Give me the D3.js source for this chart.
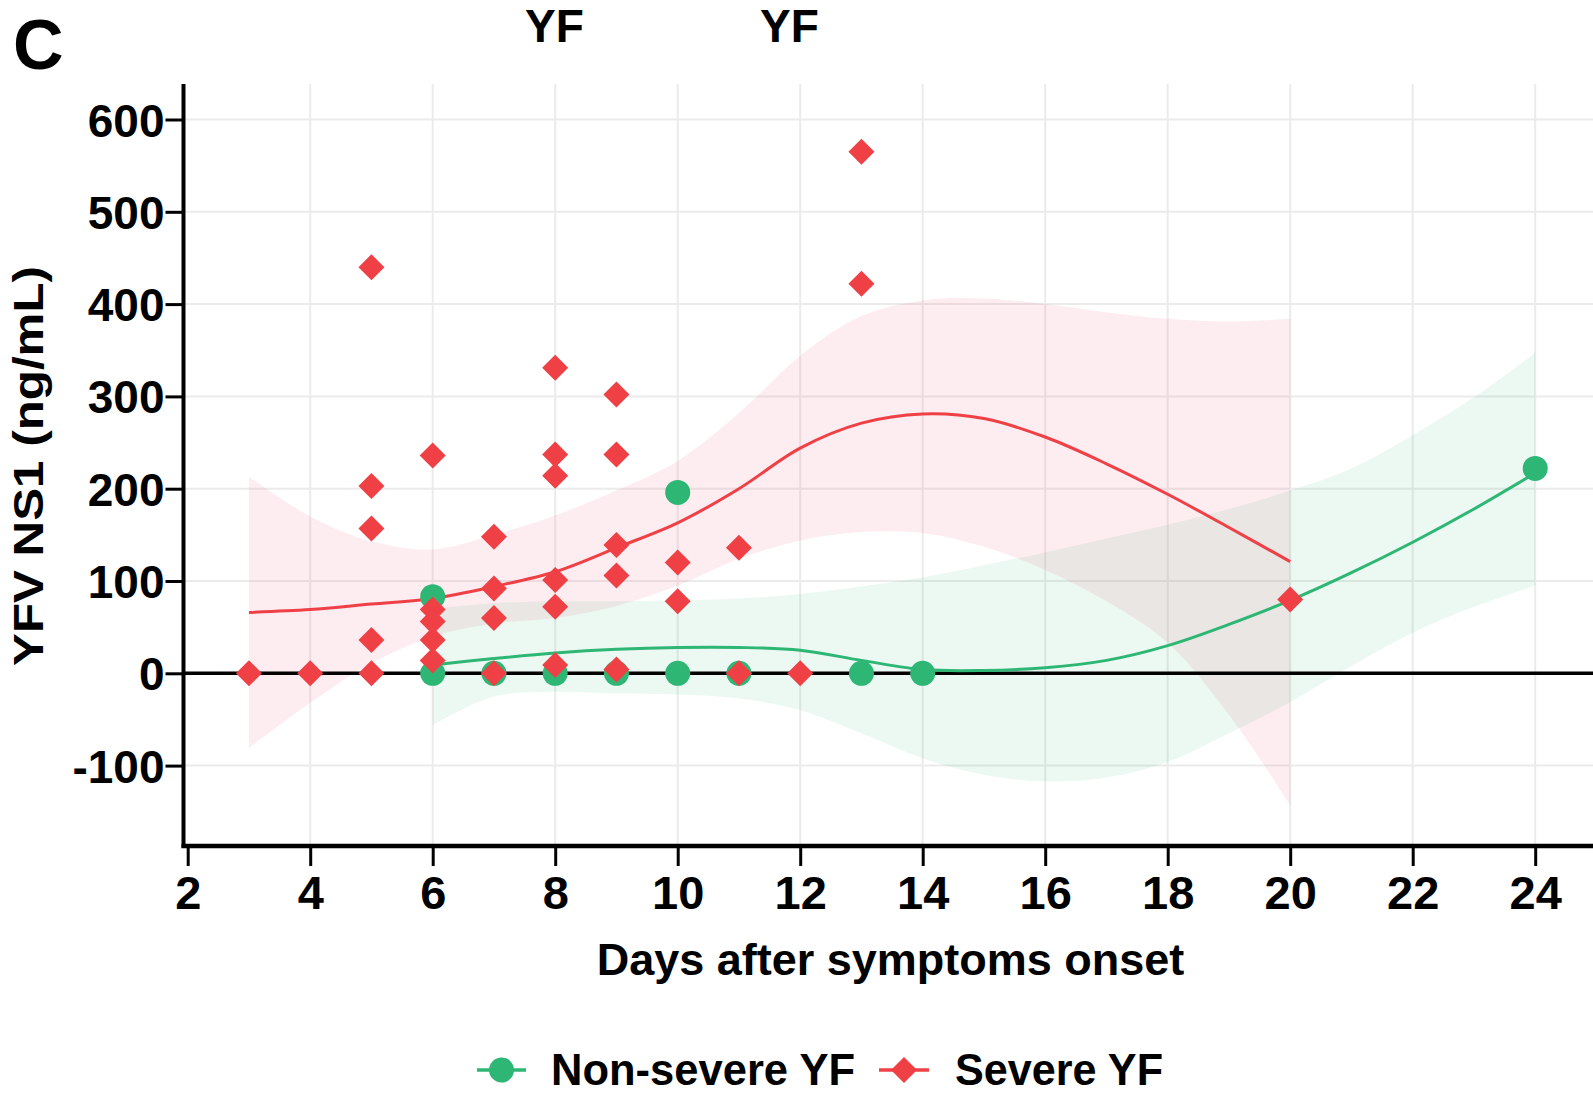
<!DOCTYPE html>
<html>
<head>
<meta charset="utf-8">
<script src="https://cdn.jsdelivr.net/npm/d3@7"></script>
<style>
  html, body { margin: 0; padding: 0; background: #fff; }
  svg { display: block; font-family: "Liberation Sans", Arial, Helvetica, sans-serif; font-weight: bold; }
</style>
</head>
<body>
<svg id="chart" width="1593" height="1095"></svg>
<script>
// Individual measurements: day after symptom onset and YFV NS1 (ng/mL)
const nonSevereDays = [6, 6, 7, 8, 9, 10, 10, 11, 13, 14, 24];
const nonSevereNS1  = [83, 0, 0, 0, 0, 196, 0, 0, 0, 0, 222];

const severeDays = [3, 4, 5, 5, 5, 5, 5, 6, 6, 6, 6, 6, 7, 7, 7, 7,
                    8, 8, 8, 8, 8, 8, 9, 9, 9, 9, 9, 10, 10, 11, 11, 12, 13, 13, 20];
const severeNS1  = [0, 0, 440, 203, 157, 36, 0, 236, 69, 56, 36, 14, 148, 92, 60, 0,
                    331, 237, 214, 101, 72, 9, 302, 237, 139, 106, 4, 120, 78, 136, 0, 0, 565, 422, 80];

// Smoothed trend with its confidence band, per group
const severeFitDays  = [3, 4, 5, 6, 7, 8, 9, 10, 11, 12, 13, 14, 15, 16, 17, 18, 19, 20];
const severeFit      = [66, 69, 75, 81, 94, 110, 136, 163, 200, 244, 271, 281, 276, 256, 227, 194, 158, 121];
const severeUpper    = [213, 170, 143, 134, 150, 171, 198, 230, 282, 344, 387, 404, 406, 400, 391, 384, 381, 384];
const severeLower    = [-81, -32, 11, 40, 54, 60, 73, 95, 124, 144, 153, 152, 137, 112, 78, 33, -45, -143];

const nonSevereFitDays = [6, 7, 8, 9, 10, 11, 12, 13, 14, 15, 16, 17, 18, 19, 20, 21, 22, 23, 24];
const nonSevereFit     = [9, 16, 22, 26, 28, 28, 25, 14, 4, 3, 6, 14, 30, 53, 79, 109, 142, 178, 217];
const nonSevereUpper   = [70, 76, 78, 78, 79, 81, 86, 94, 104, 117, 131, 146, 161, 178, 198, 222, 258, 299, 347];
const nonSevereLower   = [-56, -25, -20, -22, -23, -27, -40, -65, -92, -110, -117, -113, -96, -65, -31, 8, 44, 72, 95];

// Axis ticks
const xTicks = [2, 4, 6, 8, 10, 12, 14, 16, 18, 20, 22, 24];
const yTicks = [-100, 0, 100, 200, 300, 400, 500, 600];

const GREEN = "#2db674";
const RED = "#ef4046";
const RED_BAND = "#f0436a";

const plot = { left: 184, right: 1593, top: 84, bottom: 846 };

const x = d3.scaleLinear().domain([2, 24]).range([187.7, 1535.2]);
const y = d3.scaleLinear().domain([0, 600]).range([673.3, 119.5]);

const svg = d3.select("#chart");

// Panel letter and strip titles
svg.append("text").attr("x", 13).attr("y", 69).attr("font-size", 70).text("C");
svg.selectAll("text.strip").data(["YF", "YF"]).join("text")
  .attr("class", "strip")
  .attr("x", (d, i) => [554.5, 789.5][i]).attr("y", 42)
  .attr("text-anchor", "middle").attr("font-size", 46).text(d => d);

// Grid
const grid = svg.append("g").attr("stroke", "#ebebeb").attr("stroke-width", 2);
grid.selectAll("line.v").data(xTicks.filter(d => d > 2)).join("line")
  .attr("x1", d => x(d)).attr("x2", d => x(d))
  .attr("y1", plot.top).attr("y2", plot.bottom);
grid.selectAll("line.h").data(yTicks).join("line")
  .attr("x1", plot.left).attr("x2", plot.right)
  .attr("y1", d => y(d)).attr("y2", d => y(d));

// Confidence bands
function bandData(days, lo, hi) { return days.map((d, i) => ({ d, lo: lo[i], hi: hi[i] })); }
const area = d3.area().x(p => x(p.d)).y0(p => y(p.lo)).y1(p => y(p.hi)).curve(d3.curveCatmullRom.alpha(0.5));
svg.append("path").datum(bandData(severeFitDays, severeLower, severeUpper))
  .attr("d", area).attr("fill", RED_BAND).attr("fill-opacity", 0.1);
svg.append("path").datum(bandData(nonSevereFitDays, nonSevereLower, nonSevereUpper))
  .attr("d", area).attr("fill", GREEN).attr("fill-opacity", 0.09);

// Zero reference line
svg.append("line").attr("x1", plot.left).attr("x2", plot.right)
  .attr("y1", y(0)).attr("y2", y(0)).attr("stroke", "#000").attr("stroke-width", 3.5);

// Trend lines
const line = d3.line().x(p => x(p.d)).y(p => y(p.v)).curve(d3.curveCatmullRom.alpha(0.5));
svg.append("path").datum(severeFitDays.map((d, i) => ({ d, v: severeFit[i] })))
  .attr("d", line).attr("fill", "none").attr("stroke", RED).attr("stroke-width", 3);
svg.append("path").datum(nonSevereFitDays.map((d, i) => ({ d, v: nonSevereFit[i] })))
  .attr("d", line).attr("fill", "none").attr("stroke", GREEN).attr("stroke-width", 3);

// Points
const diamond = "M0,-13L13,0L0,13L-13,0Z";
svg.append("g").selectAll("circle").data(nonSevereDays.map((d, i) => ({ d, v: nonSevereNS1[i] })))
  .join("circle").attr("cx", p => x(p.d)).attr("cy", p => y(p.v)).attr("r", 12.5).attr("fill", GREEN);
svg.append("g").selectAll("path").data(severeDays.map((d, i) => ({ d, v: severeNS1[i] })))
  .join("path").attr("d", diamond)
  .attr("transform", p => `translate(${x(p.d)},${y(p.v)})`).attr("fill", RED);

// Axes
const xAxis = svg.append("g").attr("transform", `translate(0,${plot.bottom})`)
  .call(d3.axisBottom(x).tickValues(xTicks).tickFormat(d => String(d))
    .tickSize(20).tickSizeOuter(0).tickPadding(10));
xAxis.select(".domain").remove();
xAxis.selectAll(".tick line").attr("stroke", "#000").attr("stroke-width", 3);
xAxis.selectAll(".tick text").attr("font-size", 47).attr("fill", "#000")
  .attr("font-family", null);

const yAxis = svg.append("g").attr("transform", `translate(${plot.left - 0.5},0)`)
  .call(d3.axisLeft(y).tickValues(yTicks).tickFormat(d => String(d))
    .tickSize(18).tickSizeOuter(0).tickPadding(1));
yAxis.select(".domain").remove();
yAxis.selectAll(".tick line").attr("stroke", "#000").attr("stroke-width", 3);
yAxis.selectAll(".tick text").attr("font-size", 46).attr("fill", "#000")
  .attr("font-family", null).attr("dy", "0.36em");

svg.append("line").attr("x1", plot.left - 0.5).attr("x2", plot.left - 0.5)
  .attr("y1", plot.top).attr("y2", plot.bottom + 2).attr("stroke", "#000").attr("stroke-width", 4);
svg.append("line").attr("x1", plot.left - 2.5).attr("x2", plot.right)
  .attr("y1", plot.bottom).attr("y2", plot.bottom).attr("stroke", "#000").attr("stroke-width", 4.5);

// Axis titles
svg.append("text").attr("x", 890.5).attr("y", 975).attr("text-anchor", "middle")
  .attr("font-size", 45).text("Days after symptoms onset");
svg.append("text").attr("transform", "translate(43,466) rotate(-90)")
  .attr("text-anchor", "middle").attr("font-size", 42)
  .attr("textLength", 400).attr("lengthAdjust", "spacingAndGlyphs")
  .text("YFV NS1 (ng/mL)");

// Legend
const legend = svg.append("g");
legend.append("line").attr("x1", 477).attr("x2", 526).attr("y1", 1070).attr("y2", 1070)
  .attr("stroke", GREEN).attr("stroke-width", 3.5);
legend.append("circle").attr("cx", 501.5).attr("cy", 1070).attr("r", 12.5).attr("fill", GREEN);
legend.append("text").attr("x", 551).attr("y", 1085).attr("font-size", 45)
  .attr("textLength", 304).attr("lengthAdjust", "spacingAndGlyphs").text("Non-severe YF");
legend.append("line").attr("x1", 879).attr("x2", 929).attr("y1", 1070).attr("y2", 1070)
  .attr("stroke", RED).attr("stroke-width", 3.5);
legend.append("path").attr("d", diamond).attr("transform", "translate(904,1070)").attr("fill", RED);
legend.append("text").attr("x", 955).attr("y", 1085).attr("font-size", 45)
  .attr("textLength", 208).attr("lengthAdjust", "spacingAndGlyphs").text("Severe YF");
</script>
</body>
</html>
